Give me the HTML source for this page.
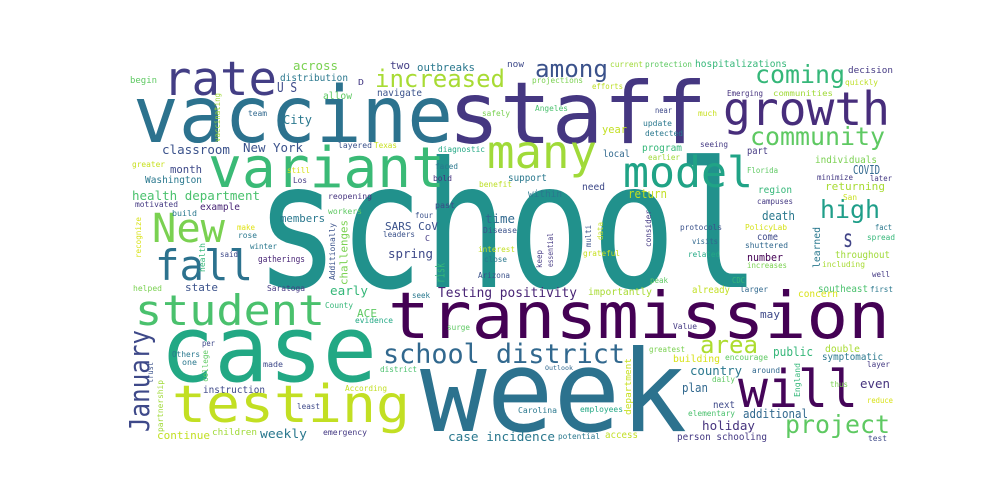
<!DOCTYPE html>
<html><head><meta charset="utf-8"><style>
html,body{margin:0;padding:0;background:#fff;}
svg{display:block;}
text{font-family:"DejaVu Sans Mono","Liberation Mono",monospace;}
</style></head><body>
<svg id="wc" width="1000" height="500" viewBox="0 0 1000 500"></svg>
<script>
// Horizontal words
const words = [
"school","staff","vaccine","rate","growth","variant","many","model","New","fall",
"case","student","testing","transmission","week","will","school district","area","project","increased",
"among","coming","community","high","s","Testing positivity","health department","New York","classroom","City",
"month","Washington","members","SARS CoV","time","spring","early","state","ACE","across",
"two","outbreaks","U S","distribution","allow","navigate","hospitalizations","now","current","protection",
"decision","projections","efforts","quickly","Emerging","communities","Angeles","near","much","update",
"year","detected","seeing","local","program","earlier","part","individuals","support","Florida",
"COVID","minimize","later","within","need","return","region","returning","San","campuses",
"death","protocols","PolicyLab","fact","visits","come","shuttered","spread","grateful","related",
"throughout","number","increases","including","peak","CDC","well","importantly","already","larger",
"southeast","first","concern","may","Value","greatest","double","public","building","encourage",
"symptomatic","layer","Outlook","country","around","daily","thus","even","plan","reduce",
"next","Carolina","employees","elementary","additional","holiday","potential","access","person schooling","test",
"case incidence","begin","D","team","safely","layered","Texas","diagnostic","greater","still",
"faced","Los","bold","reopening","benefit","motivated","example","past","build","workers",
"four","make","rose","leaders","C","Disease","winter","said","interest","gatherings",
"close","Arizona","helped","Saratoga","seek","County","evidence","surge","per","Others",
"one","made","district","instruction","According","least","continue","children","weekly","emergency"];
const xLeft = [
255,448,133,163,723,208,487,623,152,155,
160,135,172,388,420,738,383,700,785,375,
535,755,750,820,843,438,132,243,162,283,
170,145,280,385,485,388,330,185,357,293,
390,417,277,280,323,377,695,507,610,645,
848,532,592,845,727,773,535,655,698,643,
602,645,700,603,642,648,747,815,508,747,
853,817,870,528,582,628,758,825,843,757,
762,680,745,875,692,757,745,867,583,688,
835,747,747,822,650,732,872,588,692,740,
818,870,798,760,673,649,825,773,673,725,
822,867,545,690,752,712,830,860,682,867,
713,518,580,688,743,702,558,605,677,868,
448,130,358,248,482,338,374,438,132,287,
435,293,433,328,479,135,200,435,172,328,
415,237,238,383,425,483,250,220,478,258,
484,478,133,267,412,325,355,447,202,172,
182,263,380,203,345,297,157,212,260,323];
const xRight = [
760,707,453,277,890,445,597,753,225,253,
377,325,410,890,687,858,625,758,890,505,
608,845,885,880,853,577,260,303,230,312,
202,202,325,438,515,433,368,218,377,338,
410,475,297,348,352,422,787,524,643,692,
893,583,623,878,763,833,568,672,717,672,
627,683,728,630,682,680,768,877,547,778,
880,853,892,562,605,667,792,885,857,793,
795,722,787,892,718,778,788,895,620,720,
890,783,787,865,668,745,890,652,730,768,
868,893,838,780,697,685,860,813,720,768,
883,890,573,742,780,735,848,890,708,893,
735,557,623,735,808,755,600,638,767,887,
555,157,364,267,510,372,397,485,165,310,
458,307,452,372,512,178,240,455,197,362,
433,255,257,415,430,517,277,238,515,305,
507,510,162,305,430,353,393,470,215,200,
197,283,417,265,387,320,210,257,307,367];
const baseY = [
287,143,142,95,125,187,168,187,242,280,
381,325,422,338,431,407,363,353,433,87,
77,83,145,218,247,297,200,152,154,124,
173,183,222,230,223,258,295,291,317,70,
69,71,92,81,99,96,67,67,67,67,
73,83,89,85,96,96,111,113,116,126,
133,136,147,157,151,160,154,163,181,173,
174,180,181,197,190,198,193,190,200,204,
220,230,230,230,244,240,248,240,256,257,
258,261,268,267,283,283,277,295,293,292,
292,292,297,318,329,352,352,356,362,360,
360,367,370,375,373,382,387,388,392,403,
408,413,412,416,418,430,439,438,440,441,
441,83,85,116,116,148,148,152,167,173,
169,183,181,199,187,207,210,208,216,214,
218,230,238,237,241,233,249,257,252,262,
262,278,291,291,298,308,323,330,346,357,
365,367,372,393,391,409,439,435,438,435];
const fontSize = [
175,86,78,47,46,56,46,43,40,42,
92,42,52,64,113,52,27,24,25,24,
24,25,25,25,25,13,12.5,12.5,12,12,
11,9.5,11,11,12,12,12,11,11,12.5,
11,11,13,9.5,9.5,9.5,9.5,9,8,8,
9,8,8,8,8,8,8,8,8,8,
11,8,8,10,10,8,10,10,10,8,
12,8,8,10,10,12,10,11,8,8,
12,8,8,8,8,10,8,8,8,8,
10,11,8,8,8,8,8,10,10,8,
10,8,10,11,8,8,10,12,10,8,
10,8,6,12,8,8,8,12,12,8,
10,8,8,8,12,12.5,8,9.5,9.5,8,
12.7,9,8,8,8,8,8,8,8,8,
8,8,8,8,8,8,9.5,8,8,8,
8,8,8,8,8,8,8,8,8,8.5,
8,8,8,8,8,8,8,8,8,8,
8,8,8,10,8,8,11,9,12,8];
const colors = [
"#21918c","#453781","#2c728e","#433e85","#472d7b","#3aba76","#a0da39","#20a386","#7ad151","#2c728e",
"#22a884","#4ac16d","#c2df23","#440154","#2c728e","#450559","#31688e","#addc30","#5ec962","#a8db34",
"#3b528b","#35b779","#5ec962","#1f9e89","#414487","#482475","#4ac16d","#3b528b","#3b528b","#2a788e",
"#3e4989","#2a788e","#2a788e","#3b528b","#31688e","#3e4989","#35b779","#3b528b","#5ec962","#7ad151",
"#433e85","#2a788e","#3e4989","#2a788e","#5ec962","#3b528b","#35b779","#3e4989","#a0da39","#5ec962",
"#443983","#7ad151","#bddf26","#bddf26","#46337e","#a0da39","#4ac16d","#3e4989","#c8e020","#2a788e",
"#c2df23","#2a788e","#443983","#31688e","#35b779","#a0da39","#443983","#7ad151","#2a788e","#5ec962",
"#31688e","#443983","#443983","#2a788e","#3e4989","#c2df23","#35b779","#a8db34","#c8e020","#443983",
"#2a788e","#3b528b","#d5e21a","#2a788e","#31688e","#3e4989","#31688e","#35b779","#c8e020","#22a884",
"#a0da39","#440154","#7ad151","#a8db34","#5ec962","#35b779","#443983","#a8db34","#c2df23","#31688e",
"#4ac16d","#2a788e","#d8e219","#3e4989","#443983","#7ad151","#a8db34","#35b779","#d8e219","#5ec962",
"#2a788e","#443983","#31688e","#2a788e","#31688e","#5ec962","#7ad151","#46337e","#31688e","#d8e219",
"#3e4989","#2a788e","#22a884","#4ac16d","#31688e","#46337e","#2a788e","#c2df23","#443983","#3e4989",
"#2a788e","#5ec962","#443983","#31688e","#7ad151","#3b528b","#c8e020","#22a884","#c8e020","#d8e219",
"#2a788e","#443983","#46337e","#46337e","#bddf26","#443983","#482475","#3e4989","#2a788e","#5ec962",
"#3b528b","#e0e318","#2a788e","#3b528b","#443983","#3b528b","#2a788e","#3e4989","#c2df23","#482475",
"#2a788e","#3b528b","#7ad151","#443983","#2a788e","#35b779","#22a884","#5ec962","#3e4989","#2a788e",
"#2a788e","#3e4989","#4ac16d","#3e4989","#c2df23","#3e4989","#c2df23","#a0da39","#2a788e","#443983"];

// Vertical words
const vWords = ["January","vaccinating","recognize","health","Additionally","challenges","risk","college","trust","partnership","consider","data","multi","essential","keep","learned","department","England"];
const vRight = [155,222,143,207,337,350,447,210,155,165,653,605,593,555,544,822,633,802];
const vBottom = [432,142,258,272,280,285,283,382,383,432,247,240,247,267,268,268,415,397];
const vTop = [330,93,217,243,223,220,263,350,362,380,210,222,225,233,250,227,358,363];
const vSize = [28,8,8,8,8,11,12,8,8,8,8,8,8,8,8,10,9,8];
const vColors = ["#3e4989","#a0da39","#d8e219","#35b779","#3b528b","#7ad151","#35b779","#5ec962","#3b528b","#a0da39","#443983","#c2df23","#3b528b","#443983","#443983","#2a788e","#c8e020","#35b779"];

const svg=document.getElementById('wc');
const NS='http://www.w3.org/2000/svg';
for(let i=0;i<words.length;i++){
  const t=document.createElementNS(NS,'text');
  
  
  t.setAttribute('x',xLeft[i]);
  t.setAttribute('y',baseY[i]);
  t.setAttribute('font-size',fontSize[i]);
  t.setAttribute('fill',colors[i]);
  t.setAttribute('textLength',xRight[i]-xLeft[i]);
  t.setAttribute('lengthAdjust','spacingAndGlyphs');
  t.textContent=words[i];
  svg.appendChild(t);
}
for(let i=0;i<vWords.length;i++){
  const t=document.createElementNS(NS,'text');
  const bx=vRight[i]-0.22*vSize[i];
  
  
  t.setAttribute('x',bx);
  t.setAttribute('y',vBottom[i]);
  t.setAttribute('font-size',vSize[i]);
  t.setAttribute('fill',vColors[i]);
  t.setAttribute('textLength',vBottom[i]-vTop[i]);
  t.setAttribute('lengthAdjust','spacingAndGlyphs');
  t.setAttribute('transform','rotate(-90 '+bx+' '+vBottom[i]+')');
  t.textContent=vWords[i];
  svg.appendChild(t);
}
</script>
</body></html>
